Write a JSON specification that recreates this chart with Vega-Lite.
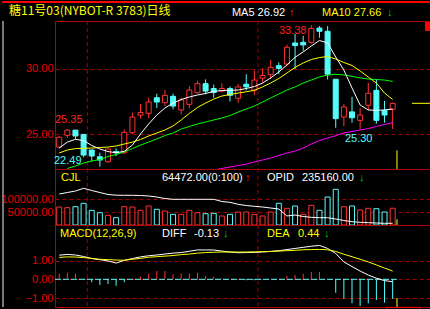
{
"$schema": "https://vega.github.io/schema/vega-lite/v6.json",
"background": "#000000",
"padding": 0,
"autosize": {"type": "pad"},
"spacing": 0,
"bounds": "flush",
"config": {
  "view": {"stroke": "#b00000", "strokeWidth": 1, "fill": "#000000"},
  "axis": {"labelColor": "#e80000", "labelFont": "Liberation Sans", "labelFontSize": 11, "ticks": false, "domain": false, "grid": true, "gridColor": "#a00000", "gridDash": [4, 3], "gridWidth": 1, "labelPadding": 2}
},
"datasets": {
  "vl": [{"i": 3.45}, {"i": 24.44}],
  "ann": [
    {"k":"top","i":-7.032,"i2":45.834,"v":35.152},
    {"k":"strip","i":-6.91},
    {"k":"cur","i":41.53,"v":23.75,"v2":22.31},
    {"k":"last","i":43.37,"i2":45.59,"v":27.36},
    {"k":"box","i":44.97,"i2":45.59,"v":33.61,"v2":32.92},
    {"k":"cur2","i":41.53,"v":21900,"v2":0},
    {"k":"zero","i":-0.516,"i2":41.53,"v":0},
    {"k":"cur3","i":41.53,"v":-1.0,"v2":-1.481},
    {"k":"box2","i":40.30,"i2":44.36,"v":-1.50,"v2":-1.64}
  ],
  "k": [
    {"i":0,"o":24.0,"h":24.85,"l":23.9,"c":24.75,"vol":69200,"vu":1,"oi":119230,"m5":23.92,"m10":23.54,"dif":1.29,"dea":1.17,"mac":0.30},
    {"i":1,"o":24.9,"h":25.35,"l":24.7,"c":25.3,"vol":66600,"vu":1,"oi":125000,"m5":24.38,"m10":23.77,"m20":22.35,"dif":1.33,"dea":1.20,"mac":0.35},
    {"i":2,"o":25.3,"h":25.3,"l":24.6,"c":24.85,"vol":70400,"vu":0,"oi":130770,"m5":24.59,"m10":23.88,"m20":22.54,"dif":1.30,"dea":1.19,"mac":0.30},
    {"i":3,"o":24.97,"h":25.0,"l":23.2,"c":23.38,"vol":83300,"vu":0,"oi":141150,"m5":24.50,"m10":23.9,"m20":22.77,"dif":1.22,"dea":1.16,"mac":0.05},
    {"i":4,"o":23.77,"h":23.8,"l":22.9,"c":23.31,"vol":56400,"vu":0,"oi":132690,"m5":24.12,"m10":23.92,"m20":22.92,"dif":1.11,"dea":1.12,"mac":-0.15},
    {"i":5,"o":23.25,"h":23.56,"l":22.49,"c":23.0,"vol":47400,"vu":0,"oi":125000,"m5":23.85,"m10":23.96,"m20":23.04,"dif":1.05,"dea":1.07,"mac":-0.30},
    {"i":6,"o":22.87,"h":23.9,"l":22.8,"c":23.85,"vol":37200,"vu":1,"oi":117310,"m5":23.65,"m10":24.0,"m20":23.27,"dif":0.98,"dea":1.05,"mac":-0.25},
    {"i":7,"o":23.65,"h":23.9,"l":23.3,"c":23.55,"vol":28200,"vu":0,"oi":114620,"m5":23.56,"m10":24.08,"m20":23.42,"dif":0.87,"dea":1.03,"mac":-0.35},
    {"i":8,"o":23.56,"h":25.35,"l":23.45,"c":25.13,"vol":70400,"vu":1,"oi":114230,"m5":23.67,"m10":24.23,"m20":23.62,"dif":1.01,"dea":1.02,"mac":-0.15},
    {"i":9,"o":25.1,"h":26.64,"l":25.0,"c":26.3,"vol":69200,"vu":1,"oi":114230,"m5":24.15,"m10":24.38,"m20":23.88,"dif":1.11,"dea":1.07,"mac":0.05},
    {"i":10,"o":26.45,"h":27.3,"l":26.2,"c":26.65,"vol":56400,"vu":1,"oi":113460,"m5":25.0,"m10":24.58,"m20":24.15,"dif":1.20,"dea":1.12,"mac":0.14},
    {"i":11,"o":26.59,"h":27.8,"l":26.2,"c":27.46,"vol":73100,"vu":1,"oi":111540,"m5":25.77,"m10":24.85,"m20":24.38,"dif":1.26,"dea":1.18,"mac":0.30},
    {"i":12,"o":27.79,"h":28.1,"l":27.0,"c":27.46,"vol":60300,"vu":0,"oi":107690,"m5":26.46,"m10":25.08,"m20":24.62,"dif":1.30,"dea":1.21,"mac":0.44},
    {"i":13,"o":27.41,"h":28.4,"l":27.15,"c":27.97,"vol":53800,"vu":1,"oi":101920,"m5":27.0,"m10":25.31,"m20":24.88,"dif":1.35,"dea":1.24,"mac":0.44},
    {"i":14,"o":27.9,"h":28.1,"l":26.9,"c":27.15,"vol":41000,"vu":0,"oi":98850,"m5":27.38,"m10":25.62,"m20":25.08,"dif":1.40,"dea":1.27,"mac":0.27},
    {"i":15,"o":26.85,"h":27.8,"l":26.5,"c":27.62,"vol":41000,"vu":1,"oi":98850,"m5":27.65,"m10":26.08,"m20":25.38,"dif":1.43,"dea":1.32,"mac":0.30},
    {"i":16,"o":27.28,"h":28.7,"l":26.97,"c":28.38,"vol":56400,"vu":1,"oi":98850,"m5":27.85,"m10":26.58,"m20":25.58,"dif":1.50,"dea":1.35,"mac":0.30},
    {"i":17,"o":28.18,"h":29.1,"l":28.1,"c":28.87,"vol":47400,"vu":1,"oi":98850,"m5":28.0,"m10":27.04,"m20":25.77,"dif":1.57,"dea":1.40,"mac":0.35},
    {"i":18,"o":28.87,"h":29.2,"l":28.05,"c":28.3,"vol":43600,"vu":0,"oi":98850,"m5":28.12,"m10":27.38,"m20":25.92,"dif":1.57,"dea":1.43,"mac":0.20},
    {"i":19,"o":28.5,"h":28.8,"l":27.8,"c":28.2,"vol":44900,"vu":0,"oi":98850,"m5":28.27,"m10":27.69,"m20":26.08,"m60":22.23,"dif":1.57,"dea":1.45,"mac":0.14},
    {"i":20,"o":28.3,"h":28.9,"l":28.2,"c":28.5,"vol":34600,"vu":1,"oi":90380,"m5":28.35,"m10":27.92,"m20":26.23,"m60":22.35,"dif":1.51,"dea":1.46,"mac":0.05},
    {"i":21,"o":28.5,"h":28.65,"l":27.5,"c":27.98,"vol":41000,"vu":0,"oi":87310,"m5":28.36,"m10":28.04,"m20":26.42,"m60":22.46,"dif":1.46,"dea":1.46,"mac":0},
    {"i":22,"o":27.75,"h":28.85,"l":27.4,"c":28.62,"vol":50000,"vu":1,"oi":79620,"m5":28.38,"m10":28.15,"m20":26.69,"m60":22.58,"dif":1.42,"dea":1.46,"mac":0},
    {"i":23,"o":28.83,"h":29.6,"l":28.35,"c":28.63,"vol":50000,"vu":1,"oi":75000,"m5":28.5,"m10":28.25,"m20":26.92,"m60":22.69,"dif":1.43,"dea":1.46,"mac":-0.05},
    {"i":24,"o":28.38,"h":29.87,"l":28.0,"c":29.15,"vol":41000,"vu":1,"oi":71920,"m5":28.65,"m10":28.36,"m20":27.15,"m60":22.85,"dif":1.44,"dea":1.47,"mac":-0.05},
    {"i":25,"o":29.3,"h":30.05,"l":28.98,"c":29.5,"vol":34600,"vu":1,"oi":69230,"m5":28.92,"m10":28.62,"m20":27.46,"m60":23.0,"dif":1.46,"dea":1.48,"mac":0},
    {"i":26,"o":29.56,"h":30.7,"l":29.23,"c":30.13,"vol":50000,"vu":1,"oi":65380,"m5":29.31,"m10":28.92,"m20":27.77,"m60":23.15,"dif":1.49,"dea":1.49,"mac":0},
    {"i":27,"o":30.25,"h":30.5,"l":29.6,"c":30.05,"vol":83300,"vu":0,"oi":61500,"m5":29.77,"m10":29.27,"m20":28.08,"m60":23.35,"dif":1.53,"dea":1.51,"mac":0},
    {"i":28,"o":30.38,"h":31.87,"l":30.2,"c":31.67,"vol":64100,"vu":1,"oi":34620,"m5":30.31,"m10":29.69,"m20":28.38,"m60":23.54,"dif":1.59,"dea":1.53,"mac":0.18},
    {"i":29,"o":32.0,"h":32.7,"l":30.0,"c":31.8,"vol":73100,"vu":0,"oi":38460,"m5":30.9,"m10":30.12,"m20":28.62,"m60":23.69,"dif":1.65,"dea":1.55,"mac":0.23},
    {"i":30,"o":32.05,"h":32.55,"l":31.4,"c":31.85,"vol":41000,"vu":1,"oi":32690,"m5":31.31,"m10":30.46,"m20":28.92,"m60":23.92,"dif":1.71,"dea":1.58,"mac":0.30},
    {"i":31,"o":32.05,"h":33.38,"l":31.95,"c":33.12,"vol":75700,"vu":1,"oi":29620,"m5":31.77,"m10":30.73,"m20":29.15,"m60":24.23,"dif":1.77,"dea":1.59,"mac":0.39},
    {"i":32,"o":33.15,"h":33.3,"l":32.4,"c":32.9,"vol":56400,"vu":0,"oi":28080,"m5":32.19,"m10":30.88,"m20":29.38,"m60":24.5,"dif":1.81,"dea":1.60,"mac":0.39},
    {"i":33,"o":32.9,"h":33.3,"l":29.2,"c":29.6,"vol":107700,"vu":0,"oi":28080,"m5":32.0,"m10":30.96,"m20":29.54,"m60":24.69,"dif":1.65,"dea":1.58,"mac":0},
    {"i":34,"o":29.21,"h":29.21,"l":25.48,"c":26.18,"vol":137200,"vu":0,"oi":23080,"m5":30.92,"m10":30.77,"m20":29.59,"m60":24.88,"dif":1.38,"dea":1.49,"mac":-0.72},
    {"i":35,"o":26.31,"h":27.3,"l":25.6,"c":27.08,"vol":70400,"vu":1,"oi":17310,"m5":29.92,"m10":30.5,"m20":29.54,"m60":25.08,"dif":0.93,"dea":1.34,"mac":-1.04},
    {"i":36,"o":26.7,"h":27.85,"l":25.87,"c":26.25,"vol":73100,"vu":0,"oi":12690,"m5":28.54,"m10":30.27,"m20":29.44,"m60":25.19,"dif":0.68,"dea":1.21,"mac":-1.28},
    {"i":37,"o":26.05,"h":27.0,"l":25.36,"c":26.46,"vol":57700,"vu":1,"oi":10380,"m5":27.23,"m10":29.85,"m20":29.31,"m60":25.31,"dif":0.44,"dea":1.07,"mac":-1.43},
    {"i":38,"o":27.21,"h":28.95,"l":26.82,"c":28.13,"vol":64100,"vu":1,"oi":8850,"m5":26.85,"m10":29.38,"m20":29.23,"m60":25.42,"dif":0.23,"dea":0.93,"mac":-1.28},
    {"i":39,"o":28.36,"h":29.2,"l":25.8,"c":26.05,"vol":62800,"vu":0,"oi":7690,"m5":26.82,"m10":28.92,"m20":29.19,"m60":25.58,"dif":0.06,"dea":0.77,"mac":-1.11},
    {"i":40,"o":26.82,"h":27.55,"l":25.87,"c":26.46,"vol":50000,"vu":0,"oi":6540,"m5":26.85,"m10":28.15,"m20":29.15,"m60":25.73,"dif":-0.07,"dea":0.60,"mac":-1.25},
    {"i":41,"o":26.9,"h":27.4,"l":25.36,"c":27.36,"vol":64472,"vu":1,"oi":6540,"m5":26.92,"m10":27.66,"m20":29.04,"m60":25.88,"dif":-0.13,"dea":0.44,"mac":-1.04}
  ],
  "lbl": [
    {"p":"main","i":-6.17,"v":34.46,"t":"糖11号03(NYBOT-R 3783)日线","r":"title"},
    {"p":"main","i":21.24,"v":34.34,"t":"MA5 26.92","r":"ma5"},
    {"p":"main","i":28.25,"v":34.34,"t":"↑","r":"up"},
    {"p":"main","i":32.31,"v":34.34,"t":"MA10 27.66","r":"ma10"},
    {"p":"main","i":40.30,"v":34.34,"t":"↓","r":"down"},
    {"p":"main","i":27.02,"v":32.92,"t":"33.38","r":"high"},
    {"p":"main","i":-0.516,"v":26.08,"t":"25.35","r":"high"},
    {"p":"main","i":-0.64,"v":22.92,"t":"22.49","r":"low"},
    {"p":"main","i":35.13,"v":24.65,"t":"25.30","r":"low"},
    {"p":"cjl","i":0.22,"v":178850,"t":"CJL","r":"name"},
    {"p":"cjl","i":12.64,"v":178850,"t":"64472.00(0:100)","r":"value"},
    {"p":"cjl","i":22.84,"v":178850,"t":"↑","r":"up"},
    {"p":"cjl","i":25.55,"v":178850,"t":"OPID","r":"value"},
    {"p":"cjl","i":29.85,"v":178850,"t":"235160.00","r":"value"},
    {"p":"cjl","i":36.85,"v":178850,"t":"↓","r":"down"},
    {"p":"macd","i":0.10,"v":2.449,"t":"MACD(12,26,9)","r":"name"},
    {"p":"macd","i":12.64,"v":2.449,"t":"DIFF","r":"value"},
    {"p":"macd","i":16.57,"v":2.449,"t":"-0.13","r":"value"},
    {"p":"macd","i":20.14,"v":2.449,"t":"↓","r":"down"},
    {"p":"macd","i":25.55,"v":2.449,"t":"DEA","r":"name"},
    {"p":"macd","i":29.36,"v":2.449,"t":"0.44","r":"name"},
    {"p":"macd","i":32.55,"v":2.449,"t":"↓","r":"down"}
  ]
},
"vconcat": [
  {
    "width": 375, "height": 148,
    "encoding": {"x": {"field": "i", "type": "quantitative", "scale": {"domain": [-0.516, 45.59], "nice": false, "zero": false, "padding": 0}, "axis": null}},
    "layer": [
      {"data": {"name": "vl"}, "mark": {"type": "rule", "color": "#a00000", "strokeDash": [4, 3]}},
      {"data": {"name": "k"}, "mark": {"type": "rule", "strokeWidth": 1},
       "encoding": {
         "y": {"field": "l", "type": "quantitative", "scale": {"domain": [22.31, 33.69], "nice": false, "zero": false}, "axis": {"values": [25, 30], "format": ".2f", "title": null}},
         "y2": {"field": "h"},
         "color": {"condition": {"test": "datum.c >= datum.o", "value": "#ff3232"}, "value": "#54fcfc"}}},
      {"data": {"name": "k"}, "mark": {"type": "bar", "size": 5, "strokeWidth": 1, "orient": "vertical"},
       "encoding": {
         "y": {"field": "o", "type": "quantitative", "scale": {"domain": [22.31, 33.69], "nice": false, "zero": false}},
         "y2": {"field": "c"},
         "fill": {"condition": {"test": "datum.c >= datum.o", "value": "#000000"}, "value": "#54fcfc"},
         "stroke": {"condition": {"test": "datum.c >= datum.o", "value": "#ff3232"}, "value": "#54fcfc"}}},
      {"data": {"name": "k"}, "mark": {"type": "line", "color": "#ff00ff", "strokeWidth": 1, "clip": true},
       "encoding": {"y": {"field": "m60", "type": "quantitative", "scale": {"domain": [22.31, 33.69], "nice": false, "zero": false}}}},
      {"data": {"name": "k"}, "mark": {"type": "line", "color": "#00ff00", "strokeWidth": 1, "clip": true},
       "encoding": {"y": {"field": "m20", "type": "quantitative", "scale": {"domain": [22.31, 33.69], "nice": false, "zero": false}}}},
      {"data": {"name": "k"}, "mark": {"type": "line", "color": "#ffff00", "strokeWidth": 1, "clip": true},
       "encoding": {"y": {"field": "m10", "type": "quantitative", "scale": {"domain": [22.31, 33.69], "nice": false, "zero": false}}}},
      {"data": {"name": "k"}, "mark": {"type": "line", "color": "#ffffff", "strokeWidth": 1, "clip": true},
       "encoding": {"y": {"field": "m5", "type": "quantitative", "scale": {"domain": [22.31, 33.69], "nice": false, "zero": false}}}},
      {"data": {"name": "lbl"}, "transform": [{"filter": "datum.p == 'main' && datum.r != 'title'"}],
       "mark": {"type": "text", "align": "left", "baseline": "middle", "font": "Liberation Sans", "fontSize": 11},
       "encoding": {
         "y": {"field": "v", "type": "quantitative", "scale": {"domain": [22.31, 33.69], "nice": false, "zero": false}},
         "text": {"field": "t"},
         "color": {"field": "r", "type": "nominal", "legend": null, "scale": {"domain": ["name", "value", "ma5", "ma10", "up", "down", "high", "low", "title"], "range": ["#ffff00", "#ffffff", "#ffffff", "#ffff00", "#ff2020", "#00d000", "#ff2020", "#54fcfc", "#ffff00"]}}}},
      {"data": {"name": "lbl"}, "transform": [{"filter": "datum.r == 'title'"}],
       "mark": {"type": "text", "align": "left", "baseline": "middle", "font": "Noto Sans CJK SC", "fontSize": 12, "color": "#ffff00"},
       "encoding": {
         "y": {"field": "v", "type": "quantitative", "scale": {"domain": [22.31, 33.69], "nice": false, "zero": false}},
         "text": {"field": "t"}}},
      {"data": {"name": "ann"}, "transform": [{"filter": "datum.k == 'top'"}], "mark": {"type": "rule", "color": "#ff0000", "strokeWidth": 2},
       "encoding": {"x2": {"field": "i2"}, "y": {"field": "v", "type": "quantitative", "scale": {"domain": [22.31, 33.69], "nice": false, "zero": false}}}},
      {"data": {"name": "ann"}, "transform": [{"filter": "datum.k == 'strip'"}], "mark": {"type": "rule", "color": "#7a7a7a", "strokeWidth": 2}},
      {"data": {"name": "ann"}, "transform": [{"filter": "datum.k == 'cur'"}], "mark": {"type": "rule", "color": "#ffff00", "strokeWidth": 1},
       "encoding": {"y": {"field": "v", "type": "quantitative", "scale": {"domain": [22.31, 33.69], "nice": false, "zero": false}}, "y2": {"field": "v2"}}},
      {"data": {"name": "ann"}, "transform": [{"filter": "datum.k == 'last'"}], "mark": {"type": "rule", "color": "#ffff00", "strokeWidth": 1},
       "encoding": {"x2": {"field": "i2"}, "y": {"field": "v", "type": "quantitative", "scale": {"domain": [22.31, 33.69], "nice": false, "zero": false}}}},
      {"data": {"name": "ann"}, "transform": [{"filter": "datum.k == 'box'"}], "mark": {"type": "rect", "color": "#ff0000"},
       "encoding": {"x2": {"field": "i2"}, "y": {"field": "v", "type": "quantitative", "scale": {"domain": [22.31, 33.69], "nice": false, "zero": false}}, "y2": {"field": "v2"}}}
    ]
  },
  {
    "width": 375, "height": 56,
    "encoding": {"x": {"field": "i", "type": "quantitative", "scale": {"domain": [-0.516, 45.59], "nice": false, "zero": false, "padding": 0}, "axis": null}},
    "layer": [
      {"data": {"name": "vl"}, "mark": {"type": "rule", "color": "#a00000", "strokeDash": [4, 3]}},
      {"data": {"name": "k"}, "mark": {"type": "bar", "size": 5, "strokeWidth": 1, "orient": "vertical", "fill": "#000000"},
       "encoding": {
         "y": {"field": "vol", "type": "quantitative", "scale": {"domain": [0, 215385], "nice": false, "zero": false}, "axis": {"values": [50000, 100000], "format": ".2f", "title": null}},
         "y2": {"datum": 0},
         "stroke": {"condition": {"test": "datum.vu == 1", "value": "#ff3232"}, "value": "#54fcfc"}}},
      {"data": {"name": "k"}, "mark": {"type": "line", "color": "#ffffff", "strokeWidth": 1, "clip": true},
       "encoding": {"y": {"field": "oi", "type": "quantitative", "scale": {"domain": [0, 215385], "nice": false, "zero": false}}}},
      {"data": {"name": "lbl"}, "transform": [{"filter": "datum.p == 'cjl'"}],
       "mark": {"type": "text", "align": "left", "baseline": "middle", "font": "Liberation Sans", "fontSize": 11},
       "encoding": {
         "y": {"field": "v", "type": "quantitative", "scale": {"domain": [0, 215385], "nice": false, "zero": false}},
         "text": {"field": "t"},
         "color": {"field": "r", "type": "nominal", "legend": null, "scale": {"domain": ["name", "value", "up", "down"], "range": ["#ffff00", "#ffffff", "#ff2020", "#00d000"]}}}},
      {"data": {"name": "ann"}, "transform": [{"filter": "datum.k == 'strip'"}], "mark": {"type": "rule", "color": "#7a7a7a", "strokeWidth": 2}},
      {"data": {"name": "ann"}, "transform": [{"filter": "datum.k == 'cur2'"}], "mark": {"type": "rule", "color": "#ffff00", "strokeWidth": 1},
       "encoding": {"y": {"field": "v", "type": "quantitative", "scale": {"domain": [0, 215385], "nice": false, "zero": false}}, "y2": {"field": "v2"}}}
    ]
  },
  {
    "width": 375, "height": 82,
    "encoding": {"x": {"field": "i", "type": "quantitative", "scale": {"domain": [-0.516, 45.59], "nice": false, "zero": false, "padding": 0}, "axis": null}},
    "layer": [
      {"data": {"name": "vl"}, "mark": {"type": "rule", "color": "#a00000", "strokeDash": [4, 3]}},
      {"data": {"name": "ann"}, "transform": [{"filter": "datum.k == 'zero'"}], "mark": {"type": "rule", "color": "#54fcfc", "strokeWidth": 1, "strokeDash": [6, 2]},
       "encoding": {"x2": {"field": "i2"}, "y": {"field": "v", "type": "quantitative", "scale": {"domain": [-1.481, 2.904], "nice": false, "zero": false}, "axis": {"values": [-1, 0, 1], "format": ".2f", "title": null}}}},
      {"data": {"name": "k"}, "mark": {"type": "rule", "strokeWidth": 1},
       "encoding": {
         "y": {"field": "mac", "type": "quantitative", "scale": {"domain": [-1.481, 2.904], "nice": false, "zero": false}},
         "y2": {"datum": 0},
         "color": {"condition": {"test": "datum.mac >= 0", "value": "#ff3232"}, "value": "#54fcfc"}}},
      {"data": {"name": "k"}, "mark": {"type": "line", "color": "#ffffff", "strokeWidth": 1, "clip": true},
       "encoding": {"y": {"field": "dif", "type": "quantitative", "scale": {"domain": [-1.481, 2.904], "nice": false, "zero": false}}}},
      {"data": {"name": "k"}, "mark": {"type": "line", "color": "#ffff00", "strokeWidth": 1, "clip": true},
       "encoding": {"y": {"field": "dea", "type": "quantitative", "scale": {"domain": [-1.481, 2.904], "nice": false, "zero": false}}}},
      {"data": {"name": "lbl"}, "transform": [{"filter": "datum.p == 'macd'"}],
       "mark": {"type": "text", "align": "left", "baseline": "middle", "font": "Liberation Sans", "fontSize": 11},
       "encoding": {
         "y": {"field": "v", "type": "quantitative", "scale": {"domain": [-1.481, 2.904], "nice": false, "zero": false}},
         "text": {"field": "t"},
         "color": {"field": "r", "type": "nominal", "legend": null, "scale": {"domain": ["name", "value", "up", "down"], "range": ["#ffff00", "#ffffff", "#ff2020", "#00d000"]}}}},
      {"data": {"name": "ann"}, "transform": [{"filter": "datum.k == 'strip'"}], "mark": {"type": "rule", "color": "#7a7a7a", "strokeWidth": 2}},
      {"data": {"name": "ann"}, "transform": [{"filter": "datum.k == 'cur3'"}], "mark": {"type": "rule", "color": "#ffff00", "strokeWidth": 1},
       "encoding": {"y": {"field": "v", "type": "quantitative", "scale": {"domain": [-1.481, 2.904], "nice": false, "zero": false}}, "y2": {"field": "v2"}}},
      {"data": {"name": "ann"}, "transform": [{"filter": "datum.k == 'box2'"}], "mark": {"type": "rect", "filled": false, "stroke": "#ff0000", "strokeWidth": 1},
       "encoding": {"x2": {"field": "i2"}, "y": {"field": "v", "type": "quantitative", "scale": {"domain": [-1.481, 2.904], "nice": false, "zero": false}}, "y2": {"field": "v2"}}}
    ]
  }
]
}
